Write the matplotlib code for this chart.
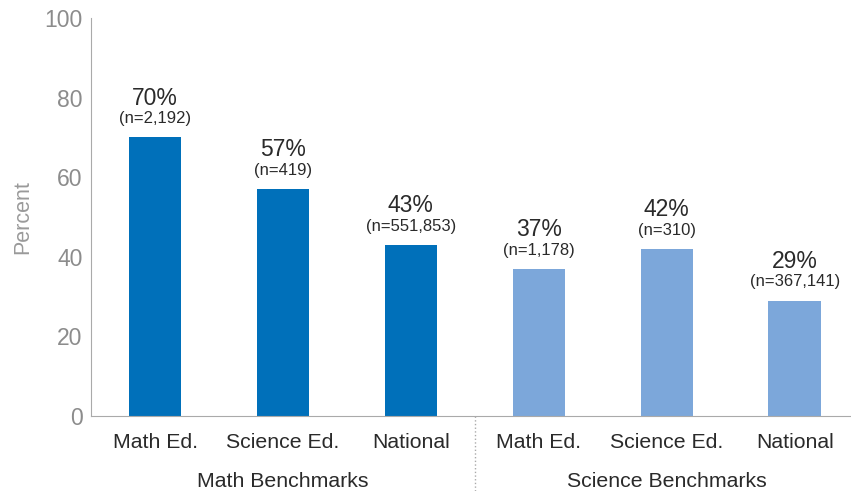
import matplotlib
matplotlib.use('Agg')
import matplotlib.pyplot as plt
from matplotlib.transforms import blended_transform_factory

plt.rcParams['font.family'] = ['Liberation Sans', 'DejaVu Sans']

# data
categories = ['Math Ed.', 'Science Ed.', 'National', 'Math Ed.', 'Science Ed.', 'National']
percents = [70, 57, 43, 37, 42, 29]
n_labels = ['(n=2,192)', '(n=419)', '(n=551,853)', '(n=1,178)', '(n=310)', '(n=367,141)']
groups = ['Math Benchmarks', 'Science Benchmarks']
bar_colors = ['#0070BA'] * 3 + ['#7CA7DA'] * 3

fig = plt.figure(figsize=(8.51, 4.91), dpi=100)
ax = fig.add_axes([0.107, 0.1527, 0.893, 0.8106])

x = list(range(len(categories)))
ax.bar(x, percents, width=0.41, color=bar_colors)

ax.set_ylim(0, 100)
ax.set_xlim(-0.5, 5.44)
ax.set_yticks(range(0, 101, 20))
ax.set_xticks(x)
ax.set_xticklabels(categories, fontsize=15.3, color='#2a2a2a')
ax.tick_params(axis='y', labelsize=16.5, colors='#8c8c8c', length=0, pad=6)
ax.tick_params(axis='x', length=0, pad=12)
ax.set_ylabel('Percent', fontsize=15.5, color='#9a9a9a', labelpad=8)

for s in ['top', 'right']:
    ax.spines[s].set_visible(False)
ax.spines['left'].set_color('#AAAAAA')
ax.spines['bottom'].set_color('#AAAAAA')

# value labels
for xi, p, n in zip(x, percents, n_labels):
    ax.annotate(n, (xi, p), xytext=(0, 8), textcoords='offset points',
                ha='center', va='bottom', fontsize=12, color='#2a2a2a')
    ax.annotate(f'{p}%', (xi, p), xytext=(0, 20), textcoords='offset points',
                ha='center', va='bottom', fontsize=16.5, color='#2a2a2a')

# group labels and separator
trans = blended_transform_factory(ax.transData, ax.transAxes)
ax.text(1, -0.165, groups[0], transform=trans, ha='center', va='center',
        fontsize=15.3, color='#2a2a2a')
ax.text(4, -0.165, groups[1], transform=trans, ha='center', va='center',
        fontsize=15.3, color='#2a2a2a')
ax.plot([2.5, 2.5], [0, -0.2], transform=trans, clip_on=False,
        color='#AAAAAA', linestyle=':', linewidth=1)

fig.savefig('out.png', dpi=100)
